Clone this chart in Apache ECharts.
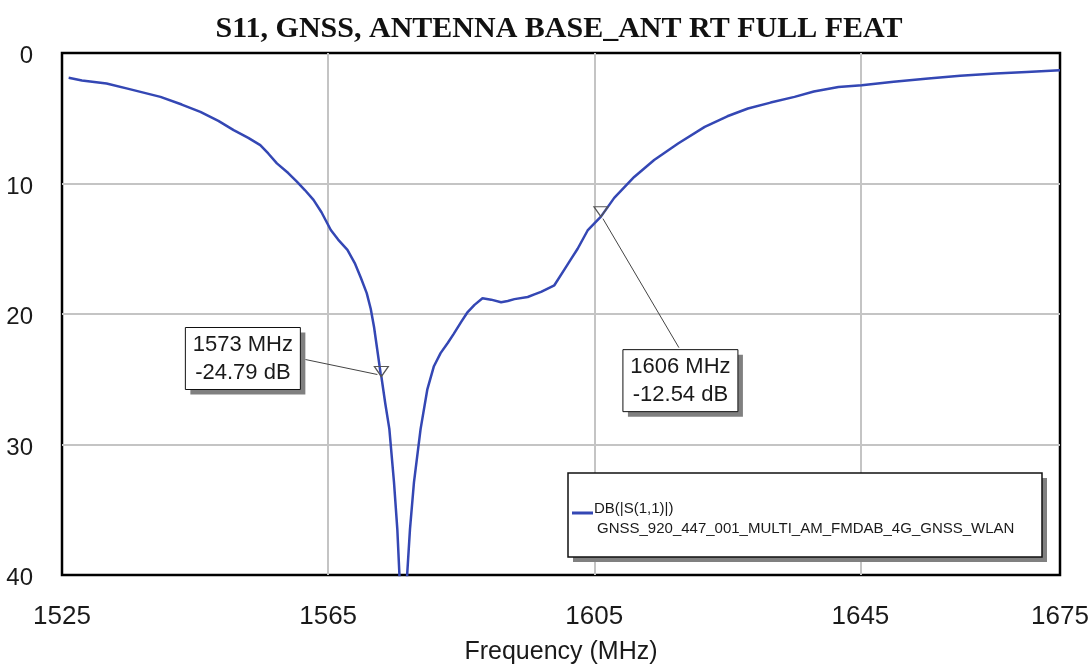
<!DOCTYPE html>
<html>
<head>
<meta charset="utf-8">
<script src="https://cdn.jsdelivr.net/npm/echarts@6/dist/echarts.min.js"></script>
<style>
  html, body { margin: 0; padding: 0; background: #fff; }
  #chart { width: 1091px; height: 671px; }
</style>
</head>
<body>
<div id="chart"></div>
<script>
// Return loss sweep, S11 in dB vs frequency in MHz
const freqMHz = [
  1526, 1528, 1531.7, 1535, 1539.8, 1543, 1545.8, 1548.5, 1550.8, 1553,
  1554.8, 1556, 1557.3, 1559, 1560.3, 1561.5, 1562.8, 1564, 1565.4, 1566.5,
  1567.9, 1569, 1569.9, 1570.8, 1571.4, 1571.9, 1572.4, 1572.9, 1573, 1573.6,
  1574.2, 1574.9, 1575.4, 1575.7, 1576.2, 1576.9, 1577.3, 1577.9, 1578.9, 1579.9,
  1580.9, 1581.9, 1583, 1583.9, 1585, 1585.9, 1587, 1588.2, 1589.5, 1591,
  1592, 1593, 1595, 1596, 1597, 1599, 1600.5, 1601.5, 1602.5, 1604,
  1606, 1608, 1611, 1614, 1617.6, 1621.6, 1625, 1628.1, 1631.5, 1635.1,
  1638, 1641.7, 1645.2, 1650, 1655.2, 1660, 1665.3, 1670, 1675
];
const s11dB = [
  -1.9, -2.1, -2.34, -2.75, -3.36, -3.95, -4.51, -5.2, -5.91, -6.5,
  -7.06, -7.7, -8.46, -9.2, -9.86, -10.5, -11.26, -12.2, -13.56, -14.3,
  -15.08, -16.1, -17.2, -18.4, -19.6, -21.0, -22.8, -24.6, -24.79, -26.9,
  -28.8, -32.9, -36.5, -39.8, -46.0, -39.8, -36.5, -32.9, -28.8, -25.8,
  -24.0, -23.0, -22.2, -21.5, -20.6, -19.9, -19.3, -18.8, -18.9, -19.1,
  -19.0, -18.86, -18.7, -18.5, -18.3, -17.8, -16.6, -15.8, -15.0, -13.6,
  -12.54, -11.1, -9.5, -8.2, -6.93, -5.66, -4.85, -4.25, -3.8, -3.36,
  -2.95, -2.6, -2.47, -2.2, -1.96, -1.75, -1.58, -1.45, -1.32
];

// Marker readouts
const markerFreq = [1573, 1606];
const markerDb = [-24.79, -12.54];

// Axis ticks
const xTicks = [1525, 1565, 1605, 1645, 1675];
const yTicks = [0, -10, -20, -30, -40];

const seriesName = 'DB(|S(1,1)|)';
const seriesSource = 'GNSS_920_447_001_MULTI_AM_FMDAB_4G_GNSS_WLAN';
const titleText = 'S11, GNSS, ANTENNA BASE_ANT RT FULL FEAT';

const lineColor = '#3447b4';
const sans = '"Liberation Sans", Arial, sans-serif';

const chart = echarts.init(document.getElementById('chart'), null, { renderer: 'canvas' });

const points = freqMHz.map((f, i) => [f, s11dB[i]]);

chart.setOption({
  animation: false,
  backgroundColor: '#fff',
  grid: {
    left: 62, right: 31, top: 53, bottom: 96,
    outerBoundsMode: 'none', containLabel: false,
    show: true, borderColor: '#000', borderWidth: 2.5, backgroundColor: 'transparent'
  },
  xAxis: {
    type: 'value',
    min: xTicks[0], max: xTicks[xTicks.length - 1], interval: 40,
    name: 'Frequency (MHz)', nameLocation: 'middle', nameGap: 65,
    nameTextStyle: { fontFamily: sans, fontSize: 25, color: '#1a1a1a' },
    axisLine: { show: false },
    axisTick: { show: false, customValues: xTicks },
    axisLabel: {
      customValues: xTicks, margin: 29, fontFamily: sans, fontSize: 26, color: '#1a1a1a',
      hideOverlap: false,
      formatter: v => String(v)
    },
    splitLine: { show: true, showMinLine: false, showMaxLine: false, lineStyle: { color: '#c4c4c4', width: 2 } }
  },
  yAxis: {
    type: 'value',
    min: yTicks[yTicks.length - 1], max: yTicks[0], interval: 10,
    axisLine: { show: false },
    axisTick: { show: false },
    axisLabel: {
      margin: 29, color: '#1a1a1a',
      formatter: v => '{n|' + Math.abs(v) + '}',
      rich: { n: { fontFamily: sans, fontSize: 24, color: '#1a1a1a', padding: [7, 0, 0, 0] } }
    },
    splitLine: { show: true, showMinLine: false, showMaxLine: false, lineStyle: { color: '#c4c4c4', width: 2 } }
  },
  series: [{
    name: seriesName,
    type: 'line',
    data: points,
    showSymbol: false,
    clip: true,
    lineStyle: { color: lineColor, width: 2.5 },
    markPoint: {
      symbol: 'path://M0,0 L14,0 L7,10 Z',
      symbolSize: [14, 10],
      symbolOffset: [0, -5],
      itemStyle: { color: 'rgba(0,0,0,0)', borderColor: '#555', borderWidth: 1.2 },
      label: { show: false },
      data: markerFreq.map((f, i) => ({ coord: [f, markerDb[i]] }))
    }
  }]
});

// Marker readout boxes, placed next to each marker's pixel position
function readout(i, dx, dy, lx0, ly0, lx1, ly1) {
  const p = chart.convertToPixel({ gridIndex: 0 }, [markerFreq[i], markerDb[i]]);
  const x = p[0] + dx, y = p[1] + dy, w = 115, h = 62;
  return [
    { type: 'line', shape: { x1: p[0] + lx0, y1: p[1] + ly0, x2: p[0] + lx1, y2: p[1] + ly1 },
      style: { stroke: '#444', lineWidth: 1 }, z: 50 },
    { type: 'rect', shape: { x: x + 5, y: y + 5, width: w, height: h }, style: { fill: '#808080' }, z: 50 },
    { type: 'rect', shape: { x: x, y: y, width: w, height: h }, style: { fill: '#fff', stroke: '#111', lineWidth: 1 }, z: 51 },
    { type: 'text', x: x + w / 2, y: y + 17, z: 52,
      style: { text: markerFreq[i] + ' MHz', font: '22px ' + sans, fill: '#1a1a1a', align: 'center', verticalAlign: 'middle' } },
    { type: 'text', x: x + w / 2, y: y + 45, z: 52,
      style: { text: markerDb[i].toFixed(2) + ' dB', font: '22px ' + sans, fill: '#1a1a1a', align: 'center', verticalAlign: 'middle' } }
  ];
}

const graphics = [
  { type: 'text', x: 559, y: 29, z: 60,
    style: { text: titleText, font: 'bold 30px "Liberation Serif", "Times New Roman", serif', fill: '#111', align: 'center', verticalAlign: 'middle' } },
  // legend box
  { type: 'rect', shape: { x: 573, y: 478, width: 474, height: 84 }, style: { fill: '#808080' }, z: 50 },
  { type: 'rect', shape: { x: 568, y: 473, width: 474, height: 84 }, style: { fill: '#fff', stroke: '#111', lineWidth: 1.5 }, z: 51 },
  { type: 'line', shape: { x1: 572, y1: 513, x2: 593, y2: 513 }, style: { stroke: lineColor, lineWidth: 3 }, z: 52 },
  { type: 'text', x: 594, y: 508.5, z: 52,
    style: { text: seriesName, font: '15px ' + sans, fill: '#1a1a1a', align: 'left', verticalAlign: 'middle' } },
  { type: 'text', x: 597, y: 528.5, z: 52,
    style: { text: seriesSource, font: '15px ' + sans, fill: '#1a1a1a', align: 'left', verticalAlign: 'middle' } }
].concat(
  readout(0, -196, -49, -76, -17, -4, -2),
  readout(1, 22, 133, 2, 2, 78, 131)
);

chart.setOption({ graphic: graphics });
</script>
</body>
</html>
